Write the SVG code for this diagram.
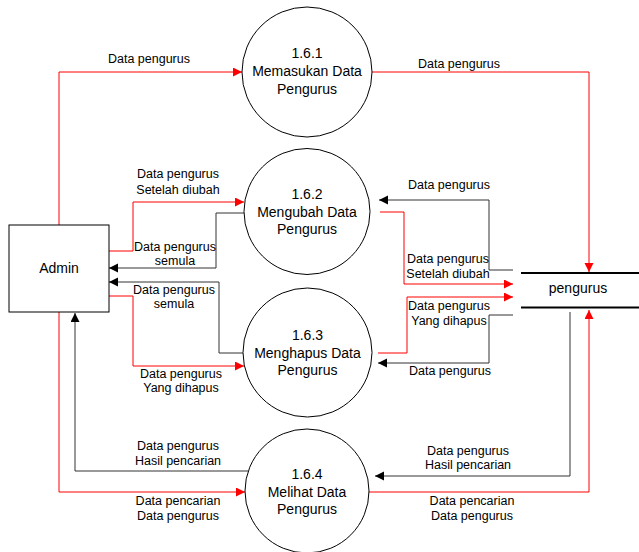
<svg xmlns="http://www.w3.org/2000/svg" width="639" height="552" viewBox="0 0 639 552">
  <style>
    .proc { fill: #ffffff; stroke: #000000; stroke-width: 1; }
    .ptxt { font-family: "Liberation Sans", Arial, sans-serif; font-size: 14px; fill: #000000; text-anchor: middle; }
    .lbl { font-family: "Liberation Sans", Arial, sans-serif; font-size: 12.5px; fill: #000000; text-anchor: middle; }
    .red { fill: none; stroke: #ff0000; stroke-width: 1; marker-end: url(#arrRed); }
    .blk { fill: none; stroke: #333333; stroke-width: 1; marker-end: url(#arrBlk); }
    .store { stroke: #000000; stroke-width: 2; }
  </style>
  <defs>
    <marker id="arrRed" markerUnits="userSpaceOnUse" markerWidth="10" markerHeight="10" refX="9" refY="4.5" orient="auto">
      <path d="M0,0 L9,4.5 L0,9 Z" fill="#ff0000"/>
    </marker>
    <marker id="arrBlk" markerUnits="userSpaceOnUse" markerWidth="10" markerHeight="10" refX="9" refY="4.5" orient="auto">
      <path d="M0,0 L9,4.5 L0,9 Z" fill="#000000"/>
    </marker>
  </defs>

  <rect width="639" height="552" fill="#ffffff"/>

  <!-- data flows -->
  <g id="connectors">
    <path class="red" d="M59,225 V72 H242"/>
    <path class="red" d="M372,72 H589 V272"/>
    <path class="red" d="M109,251 H133 V202 H244"/>
    <path class="blk" d="M244,213 H216 V268 H109"/>
    <path class="blk" d="M513,270 H489 V200 H379"/>
    <path class="red" d="M380,212 H404 V284 H513"/>
    <path class="blk" d="M243,353 H219 V282 H109"/>
    <path class="red" d="M109,296 H133 V366 H244"/>
    <path class="red" d="M378,353 H407 V297 H513"/>
    <path class="blk" d="M513,315 H489 V363 H378"/>
    <path class="blk" d="M248,471 H75 V313"/>
    <path class="red" d="M59,312 V492 H245"/>
    <path class="blk" d="M570,312 V476 H375"/>
    <path class="red" d="M369,492 H589 V310"/>

    <text class="lbl" x="149" y="63">Data pengurus</text>
    <text class="lbl" x="459" y="68">Data pengurus</text>

    <text class="lbl" x="178" y="178">Data pengurus</text>
    <text class="lbl" x="178" y="194">Setelah diubah</text>
    <text class="lbl" x="175" y="251">Data pengurus</text>
    <text class="lbl" x="175" y="265">semula</text>
    <text class="lbl" x="449" y="189">Data pengurus</text>
    <text class="lbl" x="448" y="263">Data pengurus</text>
    <text class="lbl" x="448" y="278">Setelah diubah</text>

    <text class="lbl" x="174" y="294">Data pengurus</text>
    <text class="lbl" x="174" y="308">semula</text>
    <text class="lbl" x="181" y="378">Data pengurus</text>
    <text class="lbl" x="181" y="392">Yang dihapus</text>
    <text class="lbl" x="449" y="310">Data pengurus</text>
    <text class="lbl" x="449" y="325">Yang dihapus</text>
    <text class="lbl" x="450" y="375">Data pengurus</text>

    <text class="lbl" x="178" y="450">Data pengurus</text>
    <text class="lbl" x="178" y="465">Hasil pencarian</text>
    <text class="lbl" x="178" y="505">Data pencarian</text>
    <text class="lbl" x="178" y="520">Data pengurus</text>
    <text class="lbl" x="468" y="455">Data pengurus</text>
    <text class="lbl" x="468" y="469">Hasil pencarian</text>
    <text class="lbl" x="472" y="505">Data pencarian</text>
    <text class="lbl" x="472" y="520">Data pengurus</text>
  </g>

  <!-- external entity -->
  <g id="admin">
    <rect x="9" y="225" width="100" height="87" fill="#ffffff" stroke="#000000" stroke-width="1"/>
    <text class="ptxt" x="59" y="273">Admin</text>
  </g>

  <!-- data store -->
  <g id="pengurus">
    <line class="store" x1="521" y1="273" x2="639" y2="273"/>
    <line class="store" x1="521" y1="307.5" x2="639" y2="307.5"/>
    <text class="ptxt" x="578" y="293">pengurus</text>
  </g>

  <!-- processes -->
  <g id="p161">
    <circle class="proc" cx="307" cy="72" r="65"/>
    <text class="ptxt" x="307" y="58">1.6.1</text>
    <text class="ptxt" x="307" y="76">Memasukan Data</text>
    <text class="ptxt" x="307" y="93.5">Pengurus</text>
  </g>
  <g id="p162">
    <circle class="proc" cx="307" cy="211.5" r="63"/>
    <text class="ptxt" x="307" y="198.5">1.6.2</text>
    <text class="ptxt" x="307" y="216.5">Mengubah Data</text>
    <text class="ptxt" x="307" y="233.5">Pengurus</text>
  </g>
  <g id="p163">
    <circle class="proc" cx="307.5" cy="352.5" r="64.5"/>
    <text class="ptxt" x="307.5" y="340">1.6.3</text>
    <text class="ptxt" x="307.5" y="357.5">Menghapus Data</text>
    <text class="ptxt" x="307.5" y="375">Pengurus</text>
  </g>
  <g id="p164">
    <circle class="proc" cx="307" cy="491" r="62"/>
    <text class="ptxt" x="307" y="478.5">1.6.4</text>
    <text class="ptxt" x="307" y="496.5">Melihat Data</text>
    <text class="ptxt" x="307" y="513.5">Pengurus</text>
  </g>
</svg>
